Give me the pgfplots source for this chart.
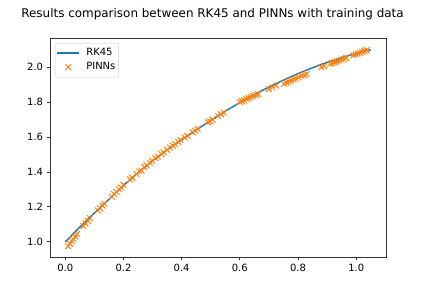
\documentclass[border=0pt]{standalone}
\usepackage{fontspec}
\setmainfont{DejaVu Sans}
\usepackage{pgfplots}
\pgfplotsset{compat=1.18}
\definecolor{c0}{HTML}{1F77B4}
\definecolor{c1}{HTML}{FF7F0E}
\pgfplotsset{
  mylinelegend/.style={legend image code/.code={\draw[c0, line width=1.45bp] (0bp,0bp) -- (21.7bp,0bp);}},
  mymarklegend/.style={legend image code/.code={\path[draw=none, fill=none] (0bp,0bp) -- (21.7bp,0bp);
     \draw[c1, line width=0.95bp] (7.95bp,-2.9bp) -- (13.75bp,2.9bp) (7.95bp,2.9bp) -- (13.75bp,-2.9bp);}},
}
\begin{document}
\begin{tikzpicture}
\path[use as bounding box] (-50bp,-32bp) rectangle (395bp,257bp);
\begin{axis}[
  scale only axis, width=336bp, height=219bp,
  xmin=-0.0525, xmax=1.1025, ymin=0.913, ymax=2.167,
  axis line style={line width=0.8bp, black!80},
  xtick pos=bottom, ytick pos=left,
  tick align=outside,
  major tick length=3.4bp,
  every tick/.style={black!80, line width=0.8bp},
  xtick={0,0.2,0.4,0.6,0.8,1.0},
  ytick={1.0,1.2,1.4,1.6,1.8,2.0},
  /pgf/number format/assume math mode=true,
  ticklabel style={font=\fontsize{10}{12}\selectfont},
  xticklabel style={/pgf/number format/fixed, /pgf/number format/fixed zerofill, /pgf/number format/precision=1},
  yticklabel style={/pgf/number format/fixed, /pgf/number format/fixed zerofill, /pgf/number format/precision=1},
  title={Results comparison between RK45 and PINNs with training data},
  title style={font=\fontsize{12}{14}\selectfont, anchor=base, at={(0.5,1)}, yshift=14.5bp, xshift=-5.5bp},
  legend style={at={(0,1)}, anchor=north west, xshift=5bp, yshift=-5bp, draw=black!20, rounded corners=2bp,
    font=\fontsize{10}{12}\selectfont, inner xsep=1.5bp, inner ysep=3.9bp,
    nodes={inner sep=1.5bp, text depth=0.2em}, row sep=1.7bp, column sep=5bp},
  legend cell align=left,
]
\addplot[c0, line width=1.45bp, mylinelegend] coordinates {
(0.00,1.0000) (0.05,1.0840) (0.10,1.1650) (0.15,1.2430) (0.20,1.3220) (0.25,1.3960)
(0.30,1.4630) (0.35,1.5260) (0.40,1.5840) (0.45,1.6400) (0.50,1.6950) (0.55,1.7480)
(0.60,1.7970) (0.65,1.8430) (0.70,1.8860) (0.75,1.9260) (0.80,1.9630) (0.85,1.9965)
(0.90,2.0270) (0.95,2.0545) (1.00,2.0790) (1.05,2.1002)
};
\addlegendentry{RK45}
\addplot[c1, only marks, mark=x, mark size=4.1bp, mark options={line width=0.95bp}, mymarklegend] coordinates {
(0.010,0.975) (0.016,0.990) (0.022,1.005) (0.028,1.015) (0.035,1.030) (0.040,1.045)
(0.062,1.090) (0.070,1.105) (0.078,1.120) (0.085,1.135)
(0.112,1.180) (0.120,1.192) (0.128,1.207) (0.135,1.218)
(0.160,1.258) (0.168,1.273) (0.176,1.285) (0.185,1.300) (0.192,1.311) (0.200,1.326)
(0.222,1.358) (0.230,1.368) (0.245,1.388) (0.255,1.403) (0.262,1.408) (0.272,1.428)
(0.280,1.438) (0.290,1.453) (0.298,1.463) (0.310,1.478) (0.318,1.488) (0.330,1.503)
(0.338,1.512) (0.350,1.526) (0.360,1.540) (0.370,1.550) (0.378,1.559) (0.388,1.573)
(0.396,1.583) (0.410,1.597) (0.420,1.607)
(0.438,1.627) (0.446,1.636) (0.455,1.646) (0.490,1.685) (0.498,1.690) (0.506,1.700)
(0.525,1.720) (0.535,1.730) (0.545,1.740)
(0.600,1.800) (0.607,1.805) (0.614,1.810) (0.622,1.818) (0.630,1.823) (0.638,1.828)
(0.646,1.836) (0.655,1.840) (0.663,1.845)
(0.700,1.875) (0.712,1.884) (0.725,1.895)
(0.752,1.905) (0.760,1.911) (0.768,1.917) (0.776,1.923) (0.785,1.930) (0.793,1.935)
(0.802,1.942) (0.812,1.949) (0.822,1.955) (0.830,1.961)
(0.880,2.000) (0.890,2.005) (0.910,2.018) (0.918,2.023) (0.926,2.028) (0.934,2.033)
(0.942,2.038) (0.950,2.043) (0.958,2.048) (0.966,2.053)
(0.990,2.068) (0.998,2.073) (1.005,2.078) (1.012,2.083) (1.020,2.088) (1.028,2.093)
(1.036,2.098)
};
\addlegendentry{PINNs}
\end{axis}
\end{tikzpicture}
\end{document}
